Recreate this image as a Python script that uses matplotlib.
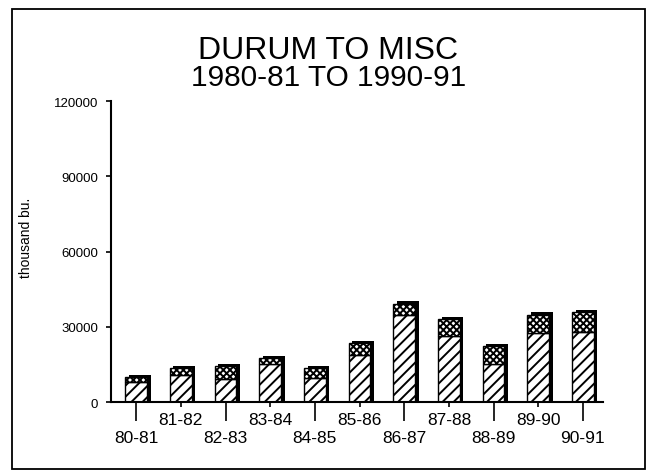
import matplotlib
matplotlib.use("Agg")
import matplotlib.pyplot as plt
import numpy as np
from matplotlib.patches import Rectangle

# data (thousand bu.)
years = ['80-81', '81-82', '82-83', '83-84', '84-85', '85-86',
         '86-87', '87-88', '88-89', '89-90', '90-91']
hatched = [8000, 10800, 9200, 15000, 9600, 18600, 34600, 26300, 15000, 27600, 28100]
checked = [1800, 2700, 5100, 2500, 3900, 4900, 4600, 6900, 7200, 7300, 7800]
yticks = [0, 30000, 60000, 90000, 120000]

plt.rcParams['font.family'] = ['Liberation Sans', 'DejaVu Sans']
plt.rcParams['hatch.linewidth'] = 1.4

fig = plt.figure(figsize=(6.54, 4.77), dpi=100)
ax = fig.add_axes([0.170, 0.155, 0.752, 0.631])

x = np.arange(len(years))
hatched = np.array(hatched)
checked = np.array(checked)
total = hatched + checked
w = 0.49

# black drop shadow behind each bar
ax.bar(x + 0.08, total + 900, width=w, color='black', zorder=1)
ax.bar(x, hatched, width=w, color='white', edgecolor='black', hatch='///',
       linewidth=1.0, zorder=2)
ax.bar(x, checked, bottom=hatched, width=w, color='white', edgecolor='black',
       hatch='xxxxx', linewidth=1.0, zorder=2)

ax.set_xlim(-0.56, 10.45)
ax.set_ylim(0, 120000)
ax.set_yticks(yticks)
ax.set_yticklabels([str(v) for v in yticks], fontsize=9.5)
ax.tick_params(axis='y', direction='out', length=3.5, width=1.2, pad=6)

# staggered category labels: long ticks low, short ticks high
ax.set_xticks(x[::2])
ax.set_xticklabels(years[::2], fontsize=12.5)
ax.set_xticks(x[1::2], minor=True)
ax.set_xticklabels(years[1::2], minor=True, fontsize=12.5)
ax.tick_params(axis='x', which='major', direction='out', length=14, width=1.2, pad=6)
ax.tick_params(axis='x', which='minor', direction='out', length=3.5, width=1.2, pad=3.5)

for side in ['top', 'right']:
    ax.spines[side].set_visible(False)
for side in ['left', 'bottom']:
    ax.spines[side].set_linewidth(1.5)

ax.set_ylabel('thousand bu.', fontsize=10)
ax.yaxis.set_label_coords(-0.159, 0.548)

fig.text(0.502, 0.893, 'DURUM TO MISC', ha='center', va='center', fontsize=23)
fig.text(0.502, 0.836, '1980-81 TO 1990-91', ha='center', va='center', fontsize=21.5)

fig.add_artist(Rectangle((0.018, 0.015), 0.968, 0.964, transform=fig.transFigure,
                         fill=False, linewidth=1.3, edgecolor='black'))

fig.savefig('out.png', dpi=100)
